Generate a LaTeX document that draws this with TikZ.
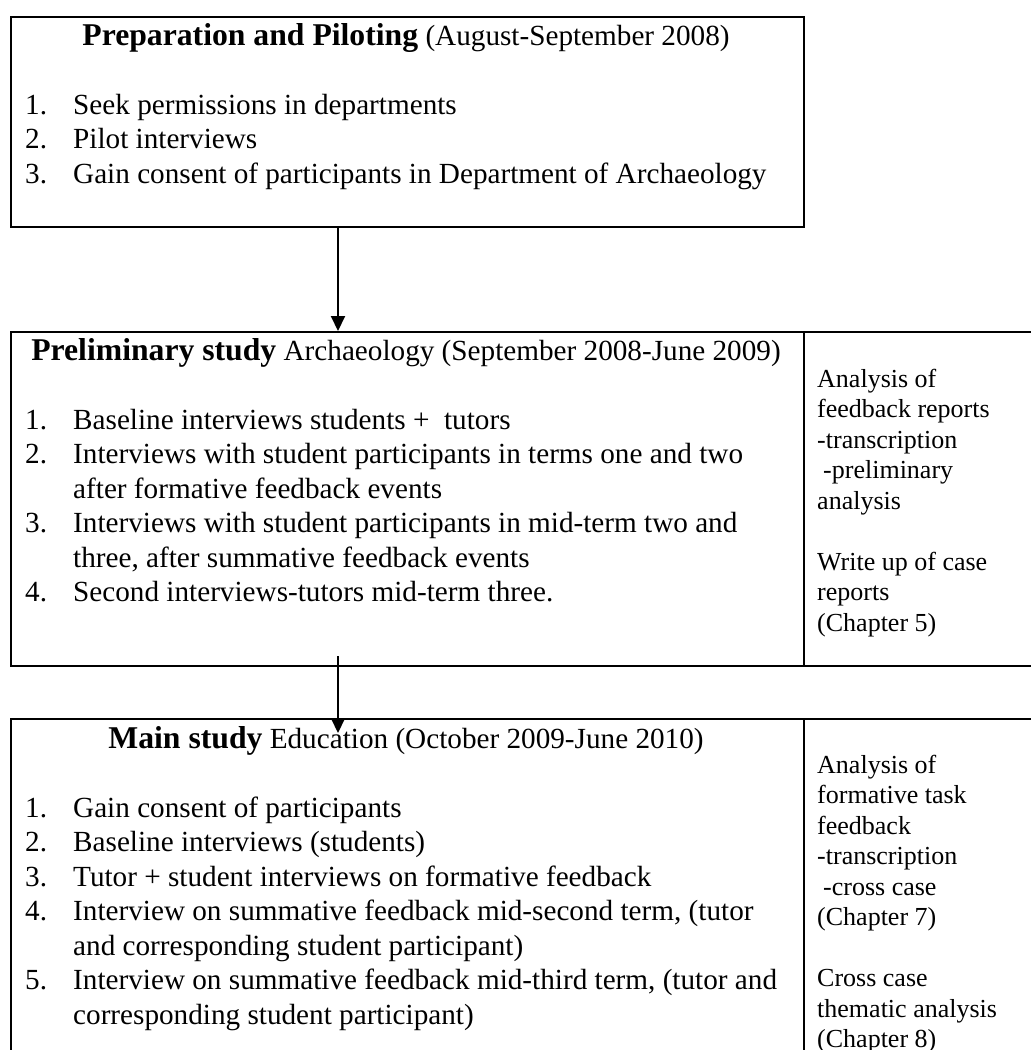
\documentclass[tikz,border=0pt]{standalone}
\usepackage{fontspec}
\setmainfont{Liberation Serif}
\usetikzlibrary{arrows.meta}
\newcommand\msz{\fontsize{29.2pt}{34.5pt}\selectfont}
\newcommand\tsz{\fontsize{31.7pt}{36pt}\selectfont\bfseries}
\newcommand\rsz{\fontsize{26pt}{30.5pt}\selectfont}
\begin{document}
\begin{tikzpicture}[x=1pt,y=-1pt,
  box/.style={draw,line width=2pt,anchor=north west,inner sep=0pt},
  ln/.style={anchor=base west,inner sep=0pt,font=\msz},
  ttl/.style={anchor=base,inner sep=0pt},
  rc/.style={anchor=base west,inner sep=0pt,font=\rsz},
  arr/.style={line width=2pt,-{Triangle[width=14pt,length=15pt]}}]
\clip (0,0) rectangle (1031,1050);
\fill[white] (0,0) rectangle (1031,1050);
% boxes
\node[box,minimum width=793pt,minimum height=210pt] (box1) at (10,16) {};
\node[box,minimum width=793pt,minimum height=334pt] (box2) at (10,331) {};
\node[box,minimum width=240pt,minimum height=334pt] (box2r) at (803,331) {};
\node[box,minimum width=793pt,minimum height=400pt] (box3) at (10,718) {};
\node[box,minimum width=240pt,minimum height=400pt] (box3r) at (803,718) {};
% connectors
\coordinate (ax) at (338,0);
\draw[arr] (box1.south -| ax) -- (box2.north -| ax);
\coordinate (a2s) at (338,656);
\coordinate (a2e) at (338,733);
\draw[arr] (a2s) -- (a2e);
% box 1
\node[ttl] (t1) at (406,45) {{\tsz Preparation and Piloting}{\msz{} (August-September 2008)}};
\node[ln] (n11) at (25,114) {1.};
\node[ln] (i11) at (73,114) {Seek permissions in departments};
\node[ln] (n12) at (25,148.5) {2.};
\node[ln] (i12) at (73,148.5) {Pilot interviews};
\node[ln] (n13) at (25,183) {3.};
\node[ln] (i13) at (73,183) {Gain consent of participants in Department of Archaeology};
% box 2
\node[ttl] (t2) at (406,360) {{\tsz Preliminary study}{\msz{} Archaeology (September 2008-June 2009)}};
\node[ln] (n21) at (25,429) {1.};
\node[ln] (i21) at (73,429) {Baseline interviews students +\ \ tutors};
\node[ln] (n22) at (25,463.5) {2.};
\node[ln] (i22) at (73,463.5) {Interviews with student participants in terms one and two};
\node[ln] (i22b) at (73,498) {after formative feedback events};
\node[ln] (n23) at (25,532.5) {3.};
\node[ln] (i23) at (73,532.5) {Interviews with student participants in mid-term two and};
\node[ln] (i23b) at (73,567) {three, after summative feedback events};
\node[ln] (n24) at (25,601.5) {4.};
\node[ln] (i24) at (73,601.5) {Second interviews-tutors mid-term three.};
% box 2 right column
\node[rc] (r21) at (817,387) {Analysis of};
\node[rc] (r22) at (817,417.5) {feedback reports};
\node[rc] (r23) at (817,448) {-transcription};
\node[rc] (r24) at (823,478.5) {-preliminary};
\node[rc] (r25) at (817,509) {analysis};
\node[rc] (r26) at (817,570) {Write up of case};
\node[rc] (r27) at (817,600.5) {reports};
\node[rc] (r28) at (817,631) {(Chapter 5)};
% box 3
\node[ttl] (t3) at (406,748) {{\tsz Main study}{\msz{} Education (October 2009-June 2010)}};
\node[ln] (n31) at (25,817) {1.};
\node[ln] (i31) at (73,817) {Gain consent of participants};
\node[ln] (n32) at (25,851.5) {2.};
\node[ln] (i32) at (73,851.5) {Baseline interviews (students)};
\node[ln] (n33) at (25,886) {3.};
\node[ln] (i33) at (73,886) {Tutor + student interviews on formative feedback};
\node[ln] (n34) at (25,920.5) {4.};
\node[ln] (i34) at (73,920.5) {Interview on summative feedback mid-second term, (tutor};
\node[ln] (i34b) at (73,955) {and corresponding student participant)};
\node[ln] (n35) at (25,989.5) {5.};
\node[ln] (i35) at (73,989.5) {Interview on summative feedback mid-third term, (tutor and};
\node[ln] (i35b) at (73,1024) {corresponding student participant)};
% box 3 right column
\node[rc] (r31) at (817,773) {Analysis of};
\node[rc] (r32) at (817,803.5) {formative task};
\node[rc] (r33) at (817,834) {feedback};
\node[rc] (r34) at (817,864.5) {-transcription};
\node[rc] (r35) at (823,895) {-cross case};
\node[rc] (r36) at (817,925.5) {(Chapter 7)};
\node[rc] (r37) at (817,986.5) {Cross case};
\node[rc] (r38) at (817,1017) {thematic analysis};
\node[rc] (r39) at (817,1047.5) {(Chapter 8)};
\end{tikzpicture}
\end{document}
